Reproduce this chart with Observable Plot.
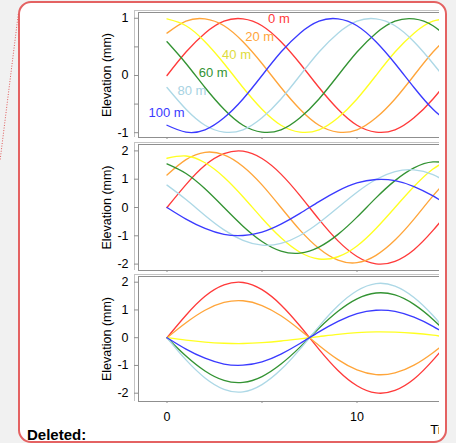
<!DOCTYPE html>
<html><head><meta charset="utf-8">
<script src="https://cdn.jsdelivr.net/npm/d3@7"></script>
<script src="https://cdn.jsdelivr.net/npm/@observablehq/plot@0.6"></script>
<style>
html,body{margin:0;padding:0;background:#f1f1f1;}
#page{position:relative;width:456px;height:443px;overflow:hidden;background:#f1f1f1;font-family:"Liberation Sans",Arial,sans-serif;}
#balloon{position:absolute;left:17.5px;top:0.5px;width:429px;height:442px;box-sizing:border-box;border:2px solid #e46262;border-radius:13px;background:#fff;}
#charts{position:absolute;left:0;top:0;width:439px;height:443px;overflow:hidden;}
#charts svg{position:absolute;left:0;}
#deleted{position:absolute;left:27px;top:427px;font-weight:bold;font-size:15px;line-height:15px;color:#000;}
#leader{position:absolute;left:0;top:0;}
</style>
</head><body>
<div id="page">
  <div id="balloon"></div>
  <div id="charts"></div>
  <div id="deleted">Deleted:</div>
  <svg id="leader" width="456" height="443"><line x1="18.3" y1="14" x2="0" y2="161" stroke="#e05a5a" stroke-width="1" stroke-dasharray="1 1.6"/></svg>
</div>
<script>
// ---------- data ----------
const time = [0,1,2,3,4,5,6,7,8,9,10,11,12,13,14,15];
const seriesNames = ["0 m","20 m","40 m","60 m","80 m","100 m"];
const lineColors = ["#ff3a3a","#ffa53a","#ffff22","#339333","#add8e6","#3a3aff"];
const labelColors = ["#ff3a3a","#ffa53a","#dedc3c","#339333","#a6d2e2","#3a3aff"];
const labelT = [5.89, 4.88, 3.66, 2.43, 1.31, -0.02];
const labelV = [0.99, 0.67, 0.36, 0.05, -0.27, -0.66];

// panel 1 (travelling wave)
const travel0m   = [0, 0.41, 0.74, 0.95, 0.99, 0.87, 0.59, 0.21, -0.21, -0.59, -0.87, -0.99, -0.95, -0.74, -0.41, 0];
const travel20m  = [0.74, 0.95, 0.99, 0.87, 0.59, 0.21, -0.21, -0.59, -0.87, -0.99, -0.95, -0.74, -0.41, 0, 0.41, 0.74];
const travel40m  = [0.99, 0.87, 0.59, 0.21, -0.21, -0.59, -0.87, -0.99, -0.95, -0.74, -0.41, 0, 0.41, 0.74, 0.95, 0.99];
const travel60m  = [0.59, 0.21, -0.21, -0.59, -0.87, -0.99, -0.95, -0.74, -0.41, 0, 0.41, 0.74, 0.95, 0.99, 0.87, 0.59];
const travel80m  = [-0.21, -0.59, -0.87, -0.99, -0.95, -0.74, -0.41, 0, 0.41, 0.74, 0.95, 0.99, 0.87, 0.59, 0.21, -0.21];
const travel100m = [-0.87, -0.99, -0.95, -0.74, -0.41, 0, 0.41, 0.74, 0.95, 0.99, 0.87, 0.59, 0.21, -0.21, -0.59, -0.87];

// panel 2
const mixed0m   = [0, 0.81, 1.49, 1.9, 1.99, 1.73, 1.18, 0.42, -0.42, -1.18, -1.73, -1.99, -1.9, -1.49, -0.81, 0];
const mixed20m  = [1.15, 1.69, 1.95, 1.86, 1.45, 0.8, 0, -0.8, -1.45, -1.86, -1.95, -1.69, -1.15, -0.41, 0.41, 1.15];
const mixed40m  = [1.74, 1.82, 1.58, 1.07, 0.38, -0.38, -1.07, -1.58, -1.82, -1.74, -1.36, -0.74, 0, 0.74, 1.36, 1.74];
const mixed60m  = [1.54, 1.2, 0.66, 0, -0.66, -1.2, -1.54, -1.61, -1.4, -0.95, -0.34, 0.34, 0.95, 1.4, 1.61, 1.54];
const mixed80m  = [0.79, 0.28, -0.28, -0.79, -1.16, -1.33, -1.27, -0.99, -0.54, 0, 0.54, 0.99, 1.27, 1.33, 1.16, 0.79];
const mixed100m = [0, -0.41, -0.74, -0.95, -0.99, -0.87, -0.59, -0.21, 0.21, 0.59, 0.87, 0.99, 0.95, 0.74, 0.41, 0];

// panel 3 (standing wave)
const standing0m   = [0, 0.81, 1.49, 1.9, 1.99, 1.73, 1.18, 0.42, -0.42, -1.18, -1.73, -1.99, -1.9, -1.49, -0.81, 0];
const standing20m  = [0, 0.54, 0.99, 1.27, 1.33, 1.16, 0.79, 0.28, -0.28, -0.79, -1.16, -1.33, -1.27, -0.99, -0.54, 0];
const standing40m  = [0, -0.09, -0.16, -0.2, -0.21, -0.18, -0.12, -0.04, 0.04, 0.12, 0.18, 0.21, 0.2, 0.16, 0.09, 0];
const standing60m  = [0, -0.66, -1.2, -1.54, -1.61, -1.4, -0.95, -0.34, 0.34, 0.95, 1.4, 1.61, 1.54, 1.2, 0.66, 0];
const standing80m  = [0, -0.8, -1.45, -1.86, -1.95, -1.69, -1.15, -0.41, 0.41, 1.15, 1.69, 1.95, 1.86, 1.45, 0.8, 0];
const standing100m = [0, -0.41, -0.74, -0.95, -0.99, -0.87, -0.59, -0.21, 0.21, 0.59, 0.87, 0.99, 0.95, 0.74, 0.41, 0];

const xDomain = [-1.5, 15.5];
const xTickValues = [0, 5, 10, 15];
const xTickLabels = ["0", "", "10", ""];
const xLabel = "Time (s)";
const xLabelT = 13.86;
const yLabel = "Elevation (mm)";
const yTicks1 = [-1, -0.5, 0, 0.5, 1];
const yTickLabels1 = ["-1", "", "0", "", "1"];
const yTicks23 = [-2, -1, 0, 1, 2];
const yTickLabels23 = ["-2", "-1", "0", "1", "2"];

// ---------- drawing ----------
const FRAME = "#8f8f8f", OUTER = "#c4c4c4";
function panel({series, yDomain, yTicks, yTickLabels, height, marginTop, marginBottom, top, withXText, withLabels}) {
  const rows = [];
  series.forEach((arr, i) => arr.forEach((v, j) => rows.push({t: time[j], v, name: seriesNames[i]})));
  const marks = [
    Plot.ruleX([xDomain[0]], {dx: -4, insetTop: -2, stroke: OUTER}),
    Plot.ruleY([yDomain[1]], {dy: -2, insetLeft: -4, stroke: OUTER}),
    Plot.line(rows, {x: "t", y: "v", z: "name", stroke: "name", curve: "natural", strokeWidth: 1.35}),
    Plot.frame({stroke: FRAME}),
    Plot.axisY({ticks: yTicks, tickSize: 4, tickPadding: 6, stroke: FRAME, fill: "#000", fontSize: 12.5,
      label: null, tickFormat: d => yTickLabels[yTicks.indexOf(d)]}),
    Plot.axisX({ticks: xTickValues, tickSize: 2, tickPadding: 9, stroke: FRAME, fill: withXText ? "#000" : "none",
      fontSize: 12.5, label: null, tickFormat: d => withXText ? xTickLabels[xTickValues.indexOf(d)] : ""}),
    Plot.text([yLabel], {text: d => d, frameAnchor: "left", rotate: -90, dx: -32, fontSize: 12.5,
      textAnchor: "middle", lineAnchor: "middle", fill: "#000"})
  ];
  if (withXText) {
    marks.push(Plot.text([xLabel], {x: () => xLabelT, text: d => d, frameAnchor: "bottom", dy: 28,
      textAnchor: "start", lineAnchor: "middle", fontSize: 13, fill: "#000"}));
  }
  if (withLabels) {
    seriesNames.forEach((name, i) => {
      marks.push(Plot.text([name], {x: () => labelT[i], y: () => labelV[i], text: d => d,
        fill: labelColors[i], fontSize: 13, textAnchor: "middle", lineAnchor: "middle"}));
    });
  }
  const svg = Plot.plot({
    width: 470, height, marginLeft: 138, marginRight: 9, marginTop, marginBottom,
    style: {background: "transparent", maxWidth: "none", overflow: "visible",
      fontFamily: "'Liberation Sans', Arial, sans-serif", fontSize: "12.5px"},
    x: {domain: xDomain, label: null},
    y: {domain: yDomain, label: null},
    color: {domain: seriesNames, range: lineColors},
    marks
  });
  svg.style.top = top + "px";
  document.getElementById("charts").appendChild(svg);
}

panel({series: [travel0m, travel20m, travel40m, travel60m, travel80m, travel100m],
  yDomain: [-1.084, 1.101], yTicks: yTicks1, yTickLabels: yTickLabels1,
  height: 140, marginTop: 12, marginBottom: 3, top: 0, withLabels: true});
panel({series: [mixed0m, mixed20m, mixed40m, mixed60m, mixed80m, mixed100m],
  yDomain: [-2.226, 2.226], yTicks: yTicks23, yTickLabels: yTickLabels23,
  height: 134, marginTop: 4, marginBottom: 4, top: 140});
panel({series: [standing0m, standing20m, standing40m, standing60m, standing80m, standing100m],
  yDomain: [-2.299, 2.205], yTicks: yTicks23, yTickLabels: yTickLabels23,
  height: 171, marginTop: 4, marginBottom: 42, top: 272, withXText: true});
</script>
</body></html>
